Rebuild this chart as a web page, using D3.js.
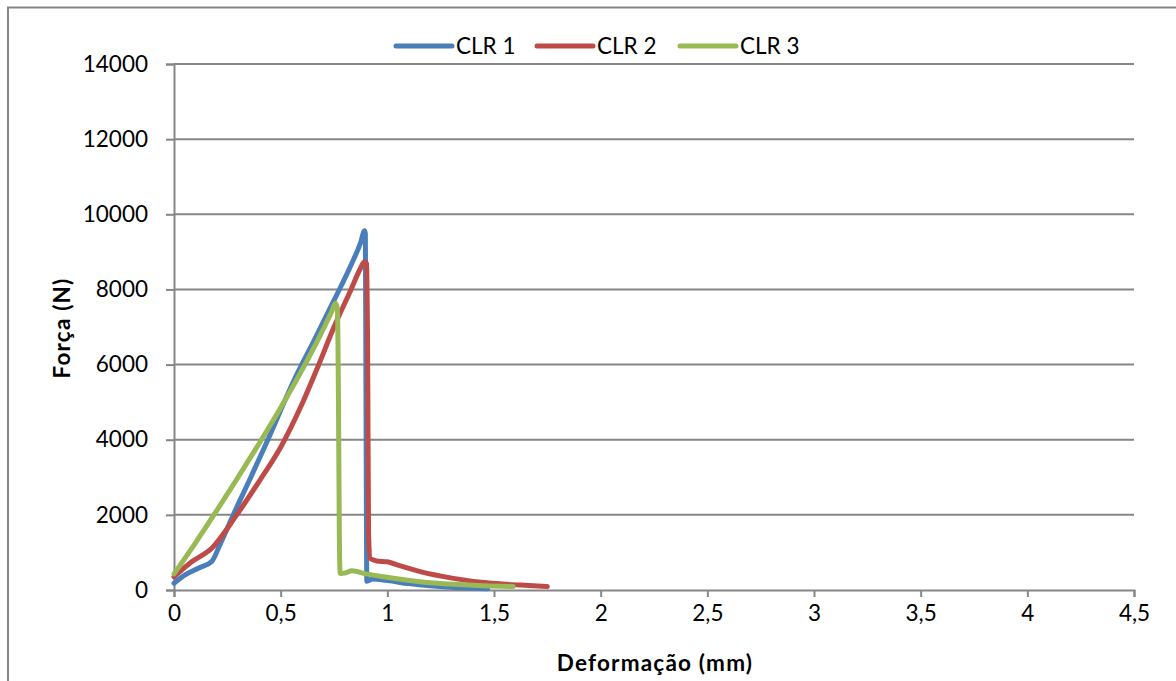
<!DOCTYPE html>
<html>
<head>
<meta charset="utf-8">
<script src="https://cdn.jsdelivr.net/npm/d3@7"></script>
<style>
  body { margin: 0; background: #fff; }
  svg { display: block; }
  text { font-family: Lato, "Open Sans", sans-serif; fill: #000; }
</style>
</head>
<body>
<svg id="chart" width="1176" height="681"></svg>
<script>
// ---- Data ----
const seriesNames = ["CLR 1", "CLR 2", "CLR 3"];
const seriesColors = ["#4a7ebb", "#be4b48", "#98b954"];

const clr1X = [0, 0.052, 0.114, 0.177, 0.215, 0.278, 0.36, 0.44, 0.56, 0.66, 0.751, 0.83, 0.875, 0.893, 0.897, 0.9, 0.904, 0.93, 1.0, 1.1, 1.2, 1.3, 1.4, 1.47];
const clr1Y = [180, 400, 580, 760, 1200, 2000, 3000, 4000, 5550, 6680, 7720, 8650, 9250, 9560, 9480, 5000, 230, 290, 250, 170, 110, 70, 45, 30];

const clr2X = [0, 0.083, 0.177, 0.294, 0.4, 0.5, 0.6, 0.675, 0.75, 0.83, 0.873, 0.893, 0.903, 0.908, 0.912, 0.92, 0.95, 1.0, 1.05, 1.154, 1.31, 1.467, 1.624, 1.75];
const clr2Y = [350, 750, 1110, 2000, 2900, 3800, 4950, 5950, 7000, 8000, 8550, 8740, 8680, 6000, 1500, 840, 770, 750, 660, 490, 310, 190, 130, 90];

const clr3X = [0, 0.1, 0.193, 0.3, 0.41, 0.5, 0.583, 0.68, 0.74, 0.757, 0.766, 0.771, 0.775, 0.779, 0.8, 0.834, 0.9, 0.998, 1.154, 1.31, 1.45, 1.59];
const clr3Y = [430, 1250, 2050, 3000, 4000, 4850, 5680, 6720, 7420, 7630, 7480, 5000, 1500, 440, 450, 510, 430, 340, 220, 150, 110, 90];

const xTicks = [0, 0.5, 1, 1.5, 2, 2.5, 3, 3.5, 4, 4.5];
const yTicks = [0, 2000, 4000, 6000, 8000, 10000, 12000, 14000];
const xTitle = "Deformação (mm)";
const yTitle = "Força (N)";

// ---- Chart ----
const svg = d3.select("#chart");
const gridColor = "#868686";
const fontSize = 22.5;

// outer chart border (extends beyond the picture on right and bottom)
svg.append("rect")
  .attr("x", 8).attr("y", 7.5).attr("width", 1250).attr("height", 750)
  .attr("fill", "#fff").attr("stroke", gridColor).attr("stroke-width", 2);

const x = d3.scaleLinear().domain([0, 4.5]).range([174, 1134]);
const y = d3.scaleLinear().domain([0, 14000]).range([590, 64]);

const loc = d3.formatLocale({decimal: ",", thousands: "", grouping: [3], currency: ["", ""]});
const fmtX = d => loc.format("")(d);

// gridlines
svg.append("g").selectAll("line").data(yTicks.filter(d => d > 0)).join("line")
  .attr("x1", x(0)).attr("x2", x(4.5))
  .attr("y1", d => y(d)).attr("y2", d => y(d))
  .attr("stroke", gridColor).attr("stroke-width", 2);

// y axis
const yAxis = svg.append("g").attr("transform", `translate(${x(0)},0)`)
  .call(d3.axisLeft(y).tickValues(yTicks).tickSize(8).tickPadding(18).tickFormat(d3.format("d")));
yAxis.select(".domain").attr("stroke", gridColor).attr("stroke-width", 2);
yAxis.selectAll(".tick line").attr("stroke", gridColor).attr("stroke-width", 2);
yAxis.selectAll(".tick text").attr("font-size", fontSize).attr("font-family", "Lato").attr("fill", "#000");

// x axis
const xAxis = svg.append("g").attr("transform", `translate(0,${y(0)})`)
  .call(d3.axisBottom(x).tickValues(xTicks).tickSize(7).tickPadding(8).tickFormat(fmtX));
xAxis.select(".domain").attr("stroke", gridColor).attr("stroke-width", 2);
xAxis.selectAll(".tick line").attr("stroke", gridColor).attr("stroke-width", 2);
xAxis.selectAll(".tick text").attr("font-size", fontSize).attr("font-family", "Lato").attr("fill", "#000");

// axis titles
svg.append("text").attr("x", 655).attr("y", 671).attr("text-anchor", "middle")
  .attr("font-size", 22.5).attr("letter-spacing", "1.2px").attr("font-weight", "bold").text(xTitle);
svg.append("text").attr("transform", "translate(70,328) rotate(-90)").attr("text-anchor", "middle")
  .attr("font-size", 22.5).attr("letter-spacing", "1.2px").attr("font-weight", "bold").text(yTitle);

// series
const seriesData = [
  d3.zip(clr1X, clr1Y),
  d3.zip(clr2X, clr2Y),
  d3.zip(clr3X, clr3Y)
];
const line = d3.line().x(d => x(d[0])).y(d => y(d[1])).curve(d3.curveMonotoneX);
svg.append("g").selectAll("path").data(seriesData).join("path")
  .attr("d", line)
  .attr("fill", "none")
  .attr("stroke", (d, i) => seriesColors[i])
  .attr("stroke-width", 5)
  .attr("stroke-linejoin", "round")
  .attr("stroke-linecap", "round");

// legend
const legendX = [396, 537, 680];
const leg = svg.append("g");
seriesNames.forEach((name, i) => {
  leg.append("line")
    .attr("x1", legendX[i]).attr("x2", legendX[i] + 56)
    .attr("y1", 46).attr("y2", 46)
    .attr("stroke", seriesColors[i]).attr("stroke-width", 5).attr("stroke-linecap", "round");
  leg.append("text")
    .attr("x", legendX[i] + 60).attr("y", 54)
    .attr("font-size", fontSize).text(name);
});
</script>
</body>
</html>
